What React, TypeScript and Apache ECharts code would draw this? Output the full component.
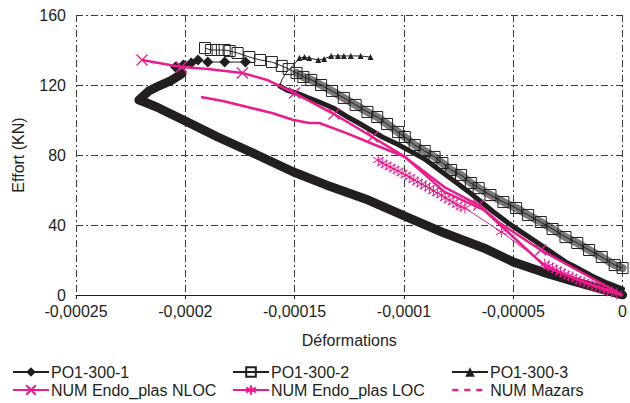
import React, { useEffect, useRef } from "react";
import * as echarts from "echarts";

// Strain values are in micro-strain (x 1e-6); forces in kN.
const xTickValues = [-250, -200, -150, -100, -50, 0];
const xTickLabels = ["-0,00025", "-0,0002", "-0,00015", "-0,0001", "-0,00005", "0"];
const yTickLabels = ["0", "40", "80", "120", "160"];

// PO1-300-1 (diamonds): dense loading band then sparse top
const po1BandX = [0, -9.5, -23.0, -36.5, -50.0, -63.5, -81.5, -99.6, -117.6, -135.6, -150.5, -167.1, -185.2, -200.9, -212.2, -217.6, -221.2, -216.7, -212.2, -206.8, -201.8];
const po1BandY = [0, 3.4, 8.0, 13.1, 18.9, 26.9, 35.4, 45.1, 54.9, 62.9, 70.3, 80.0, 90.3, 100.0, 106.9, 109.7, 111.4, 116.6, 119.4, 122.3, 126.3];
const po1TopX = [-201.8, -204.5, -200.9, -197.3, -194.2, -189.7, -182.0, -172.5];
const po1TopY = [126.3, 130.3, 131.4, 132.6, 134.3, 133.1, 133.1, 133.1];

// PO1-300-2 (squares)
const po2X = [0, -3.6, -9.5, -15.3, -20.7, -26.1, -32.0, -37.4, -43.2, -48.7, -54.5, -60.4, -65.8, -69.4, -73.9, -78.4, -82.4, -86.0, -90.5, -95.1, -99.6, -102.7, -107.7, -112.2, -116.7, -122.1, -127.5, -132.9, -137.9, -142.4, -146.0, -149.1, -152.7, -155.9, -160.4, -165.8, -170.7, -176.1, -179.7, -182.0, -185.2, -188.3, -191.0];
const po2Y = [15.4, 17.1, 21.7, 25.7, 29.7, 33.1, 37.7, 41.7, 45.7, 49.7, 53.1, 57.1, 61.1, 64.0, 68.6, 71.4, 75.4, 78.9, 82.3, 85.7, 90.3, 93.1, 97.7, 101.7, 104.6, 108.6, 112.6, 116.6, 120.0, 122.9, 124.6, 126.9, 129.1, 130.9, 133.1, 134.3, 136.0, 138.3, 139.4, 140.0, 140.0, 140.0, 141.1];

// PO1-300-3 (triangles): dense band then top plateau
const po3BandX = [0, -7.2, -14.0, -20.7, -26.1, -32.0, -38.7, -45.5, -52.3, -59.0, -63.5, -70.3, -77.0, -83.8, -90.5, -98.2, -104.1, -109.9, -115.3, -120.7, -126.6, -132.4, -138.7, -144.6, -149.1, -153.6, -156.8];
const po3BandY = [3.4, 6.9, 10.9, 15.4, 18.9, 24.0, 29.7, 35.4, 41.1, 47.4, 52.0, 58.9, 65.1, 71.4, 77.7, 82.9, 86.9, 90.3, 94.3, 98.3, 102.3, 106.9, 110.3, 113.1, 115.4, 117.1, 119.4];
const po3TopX = [-156.8, -155.9, -153.6, -150.5, -147.8, -145.5, -143.3, -139.2, -136.5, -133.3, -130.2, -127.5, -124.3, -119.8, -115.3];
const po3TopY = [119.4, 122.9, 127.4, 131.4, 135.4, 136.0, 135.4, 134.3, 134.9, 136.6, 136.6, 136.6, 136.6, 136.6, 136.0];
const po3TopMarked = [0, 0, 0, 0, 1, 1, 1, 1, 1, 1, 1, 1, 1, 1, 1];

// NUM Endo_plas NLOC
const nlocX = [0, -37.4, -56.8, -65.8, -81.5, -99.6, -114.4, -132.0, -150.0, -162.6, -173.9, -189.7, -201.8, -212.2, -219.8];
const nlocY = [0, 25.7, 41.7, 51.4, 61.7, 78.9, 90.3, 103.4, 115.4, 122.9, 126.9, 129.1, 130.3, 132.6, 134.3];
const nlocMarked = [0, 1, 0, 1, 0, 0, 1, 1, 1, 0, 1, 0, 1, 0, 1];

// NUM Endo_plas LOC
const locX = [0, -2.7, -5.0, -6.8, -8.6, -10.4, -12.2, -14.0, -15.8, -17.6, -19.4, -21.2, -23.0, -24.8, -26.6, -28.4, -30.2, -32.0, -33.8, -35.6, -55.4, -72.1, -73.9, -75.7, -77.5, -79.3, -81.1, -82.9, -84.7, -86.5, -88.3, -90.1, -91.9, -93.7, -95.5, -97.3, -99.1, -100.9, -102.7, -104.5, -106.3, -108.1, -109.9, -111.7];
const locY = [0, 0.6, 1.7, 2.3, 2.9, 4.0, 4.6, 5.7, 6.3, 7.4, 8.0, 9.1, 10.3, 10.9, 12.0, 13.1, 14.3, 15.4, 16.6, 17.7, 36.0, 49.7, 50.3, 51.4, 53.1, 54.3, 55.4, 57.1, 58.3, 59.4, 61.1, 62.3, 63.4, 64.6, 65.7, 67.4, 68.6, 69.7, 70.9, 72.0, 73.1, 74.3, 75.4, 77.1];

// NUM Mazars
const mazX = [0, -14.0, -35.1, -54.5, -63.5, -81.5, -99.6, -113.1, -126.6, -138.7, -143.3, -150.5, -160.4, -171.6, -182.9, -192.8];
const mazY = [0, 5.7, 16.0, 38.3, 48.6, 58.9, 78.9, 85.7, 92.6, 98.3, 98.3, 100.0, 104.0, 107.4, 110.9, 113.1];

const PINK = "#ec1c8c";
const BLACK = "#231f20";
const FONT = "'Liberation Sans', Arial, Helvetica, sans-serif";

const zip = (xs: number[], ys: number[]) => xs.map((x, i) => [x, ys[i]]);

const X_SYMBOL = "path://M0,0L10,10M10,0L0,10";
const AST_SYMBOL = "path://M5,0L5,10M0.7,2.5L9.3,7.5M9.3,2.5L0.7,7.5";

export default function App() {
  const ref = useRef<HTMLDivElement>(null);
  useEffect(() => {
    document.body.style.margin = "0";
    if (!ref.current) return;
    const chart = echarts.init(ref.current, null, { renderer: "svg" });
    const gridLine = { show: true, lineStyle: { color: "#3a3a3a", width: 1, type: [7, 3, 2, 3] as any } };
    const names = ["PO1-300-1", "PO1-300-2", "PO1-300-3", "NUM Endo_plas NLOC", "NUM Endo_plas LOC", "NUM Mazars"];
    const legendPos = [
      [12, 364], [232, 364], [451, 364],
      [12, 382], [232, 382], [451, 382],
    ];
    const legends = names.map((n, i) => ({
      data:
        n === "NUM Mazars"
          ? [{ name: n, lineStyle: { type: [6, 6], width: 2.5 }, itemStyle: { color: "rgba(0,0,0,0)", borderColor: "rgba(0,0,0,0)", opacity: 0 } }]
          : [n],
      left: legendPos[i][0],
      top: legendPos[i][1],
      itemWidth: 36,
      itemHeight: 12,
      selectedMode: false,
      padding: 0,
      textStyle: { fontFamily: FONT, fontSize: 16, color: BLACK, padding: [0, 0, 0, -3] },
    }));
    chart.setOption({
      animation: false,
      backgroundColor: "#ffffff",
      legend: legends,
      grid: { left: 76, right: 0, top: 15, height: 280 },
      xAxis: {
        type: "value",
        min: -250,
        max: 0,
        interval: 50,
        name: "Déformations",
        nameLocation: "middle",
        nameGap: 37,
        nameTextStyle: { fontFamily: FONT, fontSize: 16, color: BLACK },
        axisLine: { show: true, onZero: false, lineStyle: { color: BLACK, width: 1 } },
        axisTick: { show: true, length: 4, lineStyle: { color: BLACK } },
        axisLabel: {
          fontFamily: FONT,
          fontSize: 16,
          color: BLACK,
          margin: 8,
          formatter: (v: number) => {
            const i = xTickValues.indexOf(Math.round(v));
            return i >= 0 ? xTickLabels[i] : "";
          },
        },
        splitLine: gridLine,
      },
      yAxis: {
        type: "value",
        min: 0,
        max: 160,
        interval: 40,
        name: "Effort (KN)",
        nameLocation: "middle",
        nameGap: 50,
        nameTextStyle: { fontFamily: FONT, fontSize: 16, color: BLACK },
        axisLine: { show: false },
        axisTick: { show: false },
        axisLabel: {
          fontFamily: FONT,
          fontSize: 16,
          color: BLACK,
          margin: 10,
          formatter: (v: number) => yTickLabels[Math.round(v / 40)] ?? "",
        },
        splitLine: gridLine,
      },
      series: [
        {
          name: "PO1-300-1",
          type: "line",
          data: zip(po1TopX, po1TopY),
          symbol: "diamond",
          symbolSize: 11,
          lineStyle: { color: BLACK, width: 1 },
          itemStyle: { color: BLACK },
          z: 2,
        },
        {
          name: "PO1-300-1",
          type: "line",
          data: zip(po1BandX, po1BandY),
          symbol: "none",
          lineStyle: { color: BLACK, width: 9, join: "round", cap: "round" },
          itemStyle: { color: BLACK },
          z: 2,
        },
        {
          name: "PO1-300-2",
          type: "line",
          data: zip(po2X, po2Y),
          symbol: "rect",
          symbolSize: 11,
          lineStyle: { color: BLACK, width: 1 },
          itemStyle: { color: "rgba(255,255,255,0)", borderColor: BLACK, borderWidth: 1 },
          z: 2,
        },
        {
          name: "PO1-300-2",
          type: "line",
          data: zip(po2X.slice(0, 32), po2Y.slice(0, 32)),
          symbol: "none",
          lineStyle: { color: "rgba(35,31,32,0.6)", width: 8, join: "round", cap: "round" },
          itemStyle: { color: BLACK },
          z: 1,
        },
        {
          name: "PO1-300-3",
          type: "line",
          data: po3TopX.map((x, i) =>
            po3TopMarked[i] ? [x, po3TopY[i]] : { value: [x, po3TopY[i]], symbol: "none" }
          ),
          symbol: "triangle",
          symbolSize: 6,
          lineStyle: { color: BLACK, width: 1 },
          itemStyle: { color: BLACK },
          z: 2,
        },
        {
          name: "PO1-300-3",
          type: "line",
          data: zip(po3BandX, po3BandY),
          symbol: "none",
          lineStyle: { color: BLACK, width: 5, join: "round", cap: "round" },
          itemStyle: { color: BLACK },
          z: 2,
        },
        {
          name: "NUM Endo_plas NLOC",
          type: "line",
          data: nlocX.map((x, i) =>
            nlocMarked[i] ? [x, nlocY[i]] : { value: [x, nlocY[i]], symbol: "none" }
          ),
          symbol: X_SYMBOL,
          symbolSize: 11,
          lineStyle: { color: PINK, width: 2.5 },
          itemStyle: { color: "rgba(0,0,0,0)", borderColor: PINK, borderWidth: 1.3 },
          z: 3,
        },
        {
          name: "NUM Endo_plas LOC",
          type: "line",
          data: locX.map((x, i) => (i === 0 ? { value: [x, locY[i]], symbol: "none" } : [x, locY[i]])),
          symbol: AST_SYMBOL,
          symbolSize: 11,
          lineStyle: { color: PINK, width: 1 },
          itemStyle: { color: "rgba(0,0,0,0)", borderColor: PINK, borderWidth: 1 },
          z: 3,
        },
        {
          name: "NUM Mazars",
          type: "line",
          data: zip(mazX, mazY),
          symbol: "none",
          lineStyle: { color: PINK, width: 2.5 },
          itemStyle: { color: PINK },
          z: 3,
        },
      ],
    });
    return () => chart.dispose();
  }, []);
  return <div ref={ref} style={{ width: 630, height: 403, position: "absolute", left: 0, top: 0 }} />;
}
